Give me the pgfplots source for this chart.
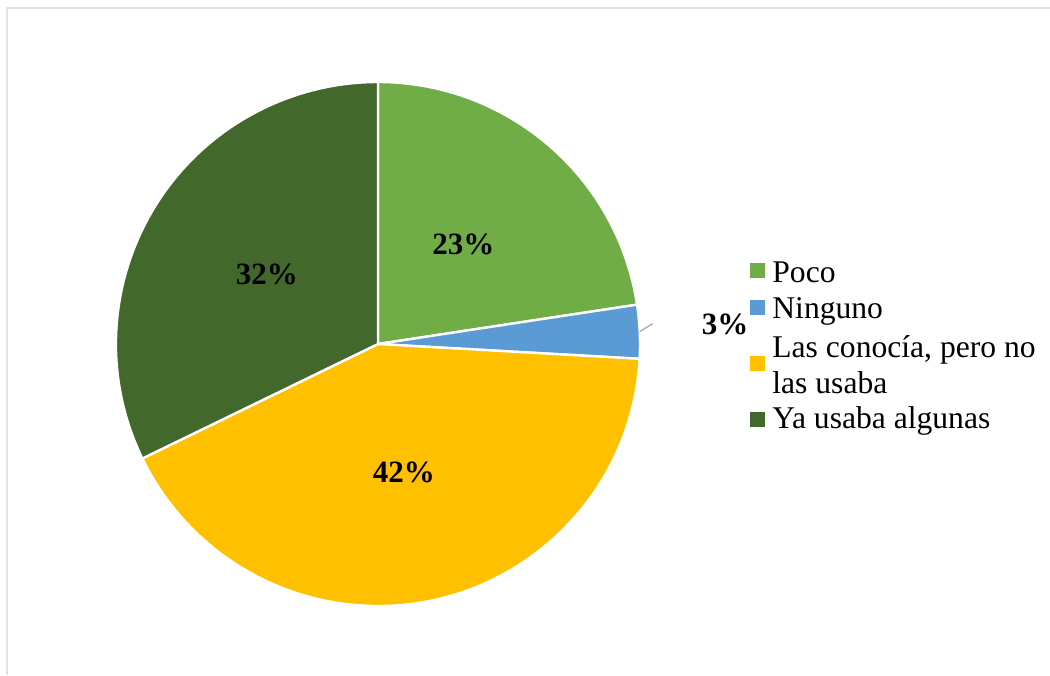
\documentclass[border=0pt]{standalone}
\usepackage{pgfplots}
\pgfplotsset{compat=1.18}
\usepackage{pgfplotstable}
\usepackage{fontspec}
\setmainfont{Liberation Serif}
\definecolor{cpoco}{HTML}{70AD47}
\definecolor{cning}{HTML}{5B9BD5}
\definecolor{clas}{HTML}{FFC000}
\definecolor{cya}{HTML}{43682B}
\definecolor{frame}{HTML}{E3E3E3}

\pgfplotstableread{
value color inside
22.6 cpoco 1
3.3 cning 0
41.9 clas 1
32.2 cya 1
}\piedata

\begin{document}
\fontsize{15.5pt}{18pt}\selectfont
\begin{tikzpicture}
\useasboundingbox (0,0) rectangle (525pt,337.5pt);
\begin{axis}[at={(0,0)}, anchor=south west, scale only axis,
  width=525pt, height=337.5pt,
  xmin=0, xmax=1050, ymin=0, ymax=675, y dir=reverse,
  hide axis, clip=false]
\def\cx{378}\def\cy{344}\def\R{131pt}
\pgfplotstablegetrowsof{\piedata}
\pgfmathtruncatemacro\nrows{\pgfplotsretval-1}
\gdef\startang{90}
\pgfplotsforeachungrouped \i in {0,...,\nrows}{%
  \pgfplotstablegetelem{\i}{value}\of\piedata \let\v\pgfplotsretval
  \pgfplotstablegetelem{\i}{color}\of\piedata \let\c\pgfplotsretval
  \pgfplotstablegetelem{\i}{inside}\of\piedata \let\ins\pgfplotsretval
  \pgfmathsetmacro\endang{\startang-3.6*\v}%
  \pgfmathsetmacro\midang{(\startang+\endang)/2}%
  \pgfmathtruncatemacro\pct{round(\v)}%
  \edef\temp{\noexpand\fill[\c, draw=white, line width=1.2pt, line join=round] (axis cs:\cx,\cy) -- +(\startang:\R) arc[start angle=\startang, end angle=\endang, radius=\R] -- cycle;}%
  \temp
  \ifnum\ins=1
    \edef\temp{\noexpand\node[font=\noexpand\bfseries, inner sep=0pt] at ([shift={(\midang:0.5*\R)}]axis cs:\cx,\cy) {\pct\noexpand\%};}%
  \else
    \edef\temp{\noexpand\draw[gray!70, line width=0.6pt] ([shift={(\midang:\R)}]axis cs:\cx,\cy) -- +(32:7.6pt);
      \noexpand\node[font=\noexpand\bfseries, inner sep=0pt] at (axis cs:725,324) {\pct\noexpand\%};}%
  \fi
  \temp
  \xdef\startang{\endang}%
}
% legend
\begin{scope}[every node/.style={font=\fontsize{15.8pt}{18pt}\selectfont, anchor=base west, inner sep=0pt}]
\fill[cpoco] (axis cs:750,263) rectangle (axis cs:765,278);
\node at (axis cs:772,282) {Poco};
\fill[cning] (axis cs:750,300) rectangle (axis cs:765,315);
\node at (axis cs:772,318) {Ninguno};
\fill[clas] (axis cs:750,356) rectangle (axis cs:765,371);
\node at (axis cs:772,357) {Las conocía, pero no};
\node at (axis cs:772,393) {las usaba};
\fill[cya] (axis cs:750,412) rectangle (axis cs:765,427);
\node at (axis cs:772,428) {Ya usaba algunas};
\end{scope}
% frame
\draw[frame, line width=1pt] (axis cs:7,675) -- (axis cs:7,8) -- (axis cs:1050,8);
\end{axis}
\end{tikzpicture}
\end{document}
